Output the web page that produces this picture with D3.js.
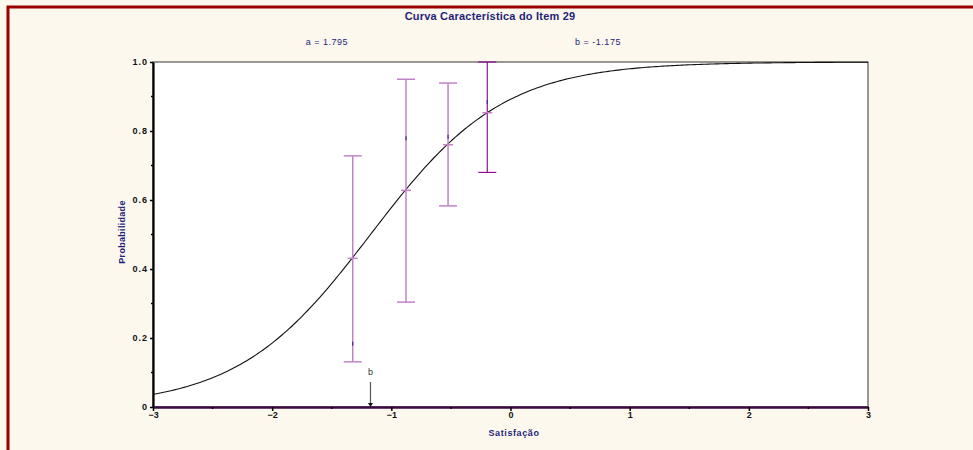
<!DOCTYPE html>
<html>
<head>
<meta charset="utf-8">
<script src="https://cdn.jsdelivr.net/npm/d3@7"></script>
<style>
  body { margin: 0; background: #fdf8ee; }
  svg { display: block; font-family: "Liberation Sans", Arial, sans-serif; }
</style>
</head>
<body>
<svg id="chart" width="973" height="450"></svg>
<script>
// item parameters
const itemA = 1.795;
const itemB = -1.175;

// groups (theta), fitted centre, observed proportion and interval
const groupTheta = [-1.324, -0.877, -0.524, -0.195];
const groupFitted = [0.431, 0.628, 0.760, 0.853];
const groupObserved = [0.183, 0.779, 0.783, 0.884];
const ciLower = [0.131, 0.304, 0.583, 0.680];
const ciUpper = [0.728, 0.950, 0.939, 1.0];

const xTicks = [-3, -2, -1, 0, 1, 2, 3];
const xMinor = [-2.5, -1.5, -0.5, 0.5, 1.5, 2.5];
const yTicks = [0, 0.2, 0.4, 0.6, 0.8, 1.0];
const yMinor = [0.1, 0.3, 0.5, 0.7, 0.9];

const navy = "#1f1f7a";
const svg = d3.select("#chart");

// outer frame
svg.append("rect").attr("x", 0).attr("y", 0).attr("width", 973).attr("height", 450).attr("fill", "#fdf8ee");
svg.append("rect").attr("x", 8).attr("y", 7).attr("width", 970).attr("height", 450)
  .attr("fill", "none").attr("stroke", "#990000").attr("stroke-width", 3);

const margin = { left: 153, right: 868, top: 62, bottom: 407 };
const x = d3.scaleLinear().domain([-3, 3]).range([margin.left, margin.right]);
const y = d3.scaleLinear().domain([0, 1]).range([margin.bottom, margin.top]);

// plot area
svg.append("rect")
  .attr("x", x(-3)).attr("y", y(1))
  .attr("width", x(3) - x(-3)).attr("height", y(0) - y(1))
  .attr("fill", "#ffffff").attr("stroke", "#333").attr("stroke-width", 1);

// titles
svg.append("text").attr("x", 490).attr("y", 20).attr("text-anchor", "middle")
  .attr("font-size", 11).attr("font-weight", "bold").attr("fill", navy)
  .attr("letter-spacing", "0.2px")
  .text("Curva Característica do Item  29");
svg.append("text").attr("x", 327).attr("y", 45).attr("text-anchor", "middle")
  .attr("font-size", 9).attr("fill", navy).attr("letter-spacing", "0.5px")
  .text("a =  1.795");
svg.append("text").attr("x", 598).attr("y", 45).attr("text-anchor", "middle")
  .attr("font-size", 9).attr("fill", navy).attr("letter-spacing", "0.5px")
  .text("b = -1.175");

// model curve
const thetaGrid = d3.range(-3, 3.0001, 0.02);
const line = d3.line()
  .x((d) => x(d))
  .y((d) => y(1 / (1 + Math.exp(-itemA * (d - itemB)))));
svg.append("path").datum(thetaGrid)
  .attr("d", line).attr("fill", "none").attr("stroke", "#111").attr("stroke-width", 1.1);

// error bars
const bars = groupTheta.map((t, i) => ({
  t, fit: groupFitted[i], obs: groupObserved[i], lo: ciLower[i], hi: ciUpper[i],
  color: i === 3 ? "#880088" : "#c283c6",
  w: i === 3 ? 1.1 : 1.5,
}));
const g = svg.append("g");
bars.forEach((d) => {
  const cx = x(d.t);
  g.append("line").attr("x1", cx).attr("x2", cx).attr("y1", y(d.hi)).attr("y2", y(d.lo))
    .attr("stroke", d.color).attr("stroke-width", d.w);
  g.append("line").attr("x1", cx - 9).attr("x2", cx + 9).attr("y1", y(d.hi)).attr("y2", y(d.hi))
    .attr("stroke", d.color).attr("stroke-width", d.w);
  g.append("line").attr("x1", cx - 9).attr("x2", cx + 9).attr("y1", y(d.lo)).attr("y2", y(d.lo))
    .attr("stroke", d.color).attr("stroke-width", d.w);
  g.append("line").attr("x1", cx - 5).attr("x2", cx + 5).attr("y1", y(d.fit)).attr("y2", y(d.fit))
    .attr("stroke", "#c283c6").attr("stroke-width", 1.5);
  g.append("line").attr("x1", cx).attr("x2", cx).attr("y1", y(d.obs) - 2).attr("y2", y(d.obs) + 2)
    .attr("stroke", "#3a2a9a").attr("stroke-width", 1.2);
});

// b marker
svg.append("line").attr("x1", x(itemB)).attr("x2", x(itemB)).attr("y1", 382).attr("y2", y(0) - 3)
  .attr("stroke", "#555").attr("stroke-width", 1.2);
svg.append("path")
  .attr("d", `M${x(itemB) - 2.5},${y(0) - 4} L${x(itemB) + 2.5},${y(0) - 4} L${x(itemB)},${y(0)} Z`)
  .attr("fill", "#111");
svg.append("text").attr("x", x(itemB)).attr("y", 375).attr("text-anchor", "middle")
  .attr("font-size", 9).attr("fill", "#333").text("b");

// y axis
const yAxis = svg.append("g").attr("transform", `translate(${margin.left},0)`)
  .call(d3.axisLeft(y).tickValues(yTicks).tickSize(3).tickSizeOuter(0)
    .tickFormat((d) => (d === 0 ? "0" : d3.format(".1f")(d))));
yAxis.select(".domain").attr("stroke", "#000").attr("stroke-width", 2.2);
yAxis.selectAll(".tick line").attr("stroke", "#000").attr("stroke-width", 1.5);
yAxis.selectAll(".tick text").attr("x", -5).attr("font-size", 9).attr("font-weight", "bold")
  .attr("fill", "#111").attr("letter-spacing", "1px").attr("font-family", "Liberation Sans, Arial");
yAxis.selectAll(".minor").data(yMinor).enter().append("line")
  .attr("x1", -2).attr("x2", 0).attr("y1", (d) => y(d)).attr("y2", (d) => y(d))
  .attr("stroke", "#000").attr("stroke-width", 1.5);

// x axis
const xAxis = svg.append("g").attr("transform", `translate(0,${margin.bottom})`)
  .call(d3.axisBottom(x).tickValues(xTicks).tickSize(4).tickSizeOuter(0).tickFormat(d3.format("d")));
xAxis.select(".domain").attr("stroke", "#3a0a40").attr("stroke-width", 2.4);
xAxis.selectAll(".tick line").attr("stroke", "#000").attr("stroke-width", 1.5);
xAxis.selectAll(".tick text").attr("y", 5).attr("font-size", 9).attr("font-weight", "bold")
  .attr("fill", "#111").attr("font-family", "Liberation Sans, Arial");
xAxis.selectAll(".minor").data(xMinor).enter().append("line")
  .attr("x1", (d) => x(d)).attr("x2", (d) => x(d)).attr("y1", 0).attr("y2", 2)
  .attr("stroke", "#000").attr("stroke-width", 1.5);

// axis titles
svg.append("text").attr("x", 514).attr("y", 436).attr("text-anchor", "middle")
  .attr("font-size", 9).attr("font-weight", "bold").attr("fill", navy)
  .attr("letter-spacing", "0.6px").text("Satisfação");
svg.append("text").attr("transform", "translate(125,232) rotate(-90)").attr("text-anchor", "middle")
  .attr("font-size", 9).attr("font-weight", "bold").attr("fill", navy)
  .attr("letter-spacing", "0.3px").text("Probabilidade");
</script>
</body>
</html>
